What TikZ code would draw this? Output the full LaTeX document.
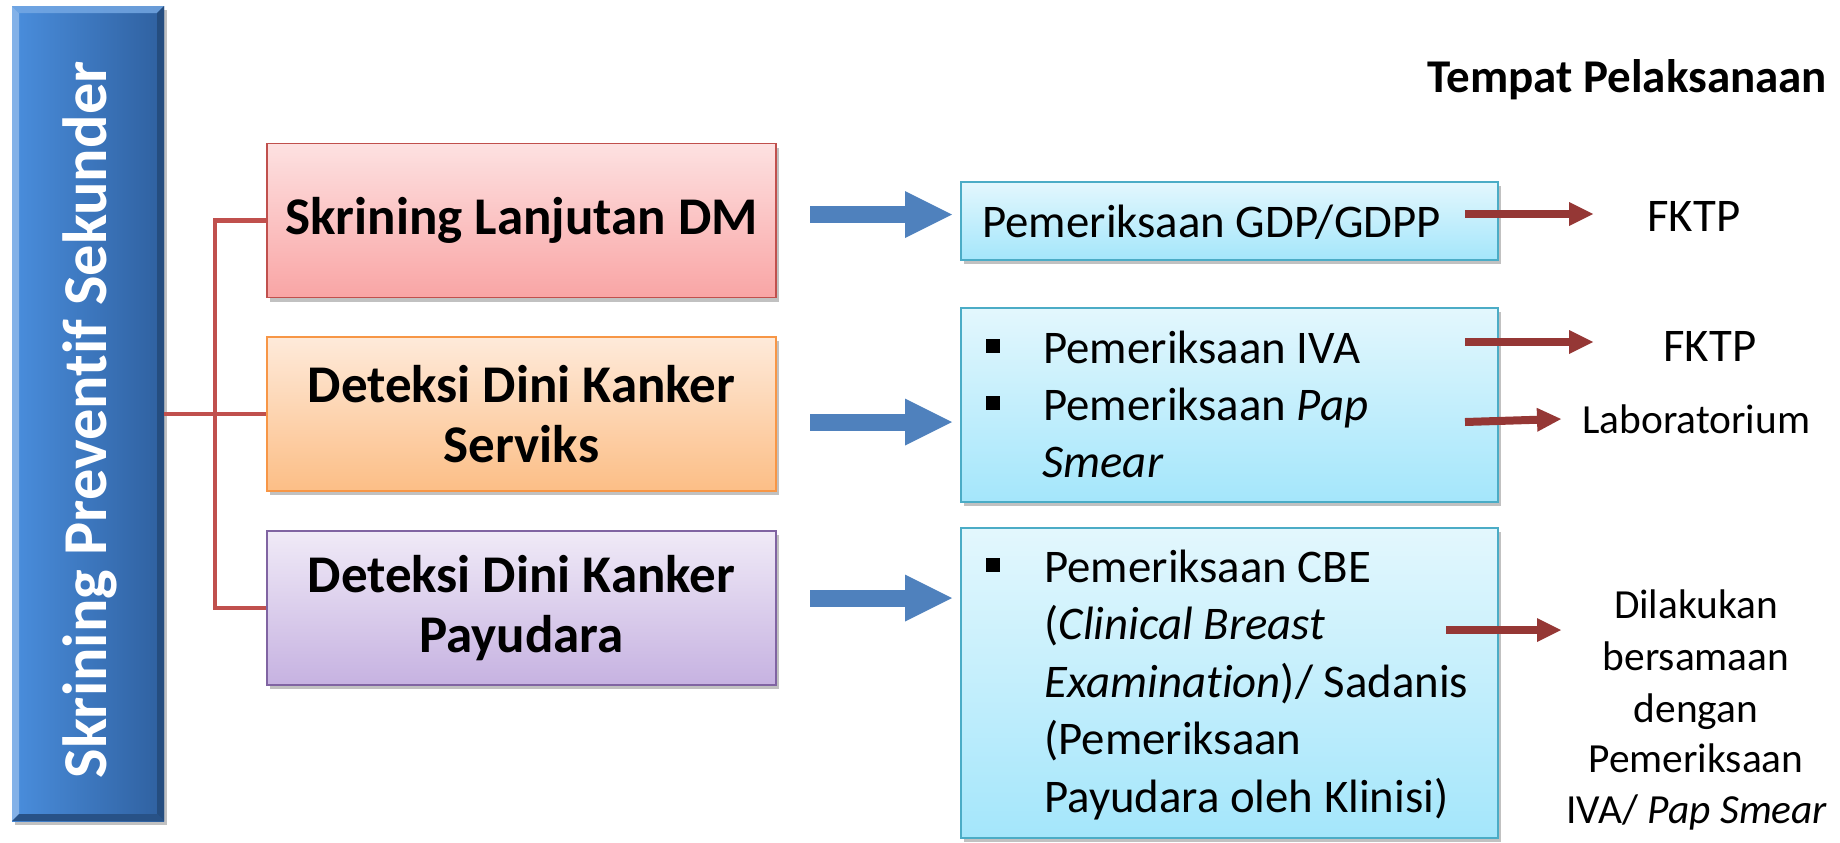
\documentclass[tikz,border=0pt]{standalone}
\usepackage{fontspec}
\setmainfont{Carlito}[Ligatures=NoCommon]
\usetikzlibrary{arrows.meta,shadows,calc}

\definecolor{linkred}{HTML}{C0504D}
\definecolor{arrowred}{HTML}{953735}
\definecolor{arrowblue}{HTML}{4F81BD}
\definecolor{pinktop}{HTML}{FDE1E1}
\definecolor{pinkbot}{HTML}{F9A5A5}
\definecolor{orangeline}{HTML}{F79646}
\definecolor{orangetop}{HTML}{FEEADA}
\definecolor{orangebot}{HTML}{FCBE86}
\definecolor{purpleline}{HTML}{8064A2}
\definecolor{purpletop}{HTML}{F0EAF7}
\definecolor{purplebot}{HTML}{C6B2E1}
\definecolor{cyanline}{HTML}{4BACC6}
\definecolor{cyantop}{HTML}{E3F7FD}
\definecolor{cyanbot}{HTML}{A4E6FB}
\definecolor{titleleft}{HTML}{4A8EDD}
\definecolor{titleright}{HTML}{2F609F}

\begin{document}
\begin{tikzpicture}[x=0.5pt,y=-0.5pt,
  shadowed/.style={drop shadow={shadow xshift=1.5pt,shadow yshift=-2pt,opacity=0.35,fill=black!70}},
  catbox/.style={draw, line width=0.8pt, minimum width=254.5pt, minimum height=77pt,
    align=center, inner sep=0pt, shadowed,
    font=\bfseries\fontsize{26.5}{30}\selectfont},
  pinkbox/.style={catbox, draw=linkred, top color=pinktop, bottom color=pinkbot},
  orangebox/.style={catbox, draw=orangeline, top color=orangetop, bottom color=orangebot},
  purplebox/.style={catbox, draw=purpleline, top color=purpletop, bottom color=purplebot},
  testbox/.style={draw=cyanline, line width=0.8pt, top color=cyantop, bottom color=cyanbot,
    minimum width=268.5pt, inner sep=0pt, shadowed},
  textline/.style={font=\fontsize{23.4}{28.5}\selectfont, inner sep=0pt, anchor=base west},
  placeline/.style={font=\fontsize{20.7}{25}\selectfont, inner sep=0pt, anchor=base},
  bulletmark/.style={inner sep=0pt, anchor=base west},
  bluearrow/.style={draw=arrowblue, line width=8.5pt,
    -{Triangle[length=23.5pt,width=23.5pt,line width=0pt]}},
  redarrow/.style={draw=arrowred, line width=4pt,
    -{Triangle[length=12pt,width=12pt,line width=0pt]}},
  conn/.style={draw=linkred, line width=2.2pt}]

\useasboundingbox (0,0) rectangle (1840,842);

% Vertical title bar
\node[minimum width=76pt, minimum height=407.5pt, inner sep=0pt,
      left color=titleleft, right color=titleright, shadowed] (title) at (88,413.5) {};
\fill[titleleft!60!white, opacity=0.8] (12,6) -- (19,13) -- (19,814) -- (12,821) -- cycle;
\fill[titleleft!75!white, opacity=0.8] (12,6) -- (164,6) -- (157,13) -- (19,13) -- cycle;
\fill[titleright!80!black] (164,6) -- (164,821) -- (157,814) -- (157,13) -- cycle;
\fill[titleright!85!black] (12,821) -- (164,821) -- (157,814) -- (19,814) -- cycle;
\node[rotate=90, text=white, inner sep=0pt,
      font=\bfseries\fontsize{31.2}{36}\selectfont] (titletext) at (90,420) {Skrining Preventif Sekunder};

% Screening categories
\node[pinkbox]   (dm)      at (521.5,220.5) {Skrining Lanjutan DM};
\node[orangebox] (serviks) at (521.5,414)   {Deteksi Dini Kanker\\Serviks};
\node[purplebox] (payu)    at (521.5,608)   {Deteksi Dini Kanker\\Payudara};

% Bracket joining the title bar to the categories
\coordinate (hub) at (215,414);
\draw[conn] (title.east |- serviks.west) -- (serviks.west);
\draw[conn] (dm.west) -- (dm.west -| hub) -- (payu.west -| hub) -- (payu.west);

% Examination boxes
\node[testbox, minimum height=39pt]   (gdp) at (1229.5,221) {};
\node[testbox, minimum height=97pt]   (iva) at (1229.5,405) {};
\node[testbox, minimum height=155pt]  (cbe) at (1229.5,683) {};

\node[textline] (gdptext) at (982,237) {Pemeriksaan GDP/GDPP};

\node[bulletmark] (ivab1) at (986,363) {\rule[5pt]{7pt}{7pt}};
\node[textline]   (ivat1) at (1043,363) {Pemeriksaan IVA};
\node[bulletmark] (ivab2) at (986,420) {\rule[5pt]{7pt}{7pt}};
\node[textline]   (ivat2) at (1043,420) {Pemeriksaan \textit{Pap}};
\node[textline]   (ivat3) at (1042,477) {\textit{Smear}};

\node[bulletmark] (cbeb1) at (986,582) {\rule[5pt]{7pt}{7pt}};
\node[textline]   (cbet1) at (1044,582)   {Pemeriksaan CBE};
\node[textline]   (cbet2) at (1044,639.5) {(\textit{Clinical Breast}};
\node[textline]   (cbet3) at (1044,697)   {\textit{Examination})/ Sadanis};
\node[textline]   (cbet4) at (1044,754.5) {(Pemeriksaan};
\node[textline]   (cbet5) at (1044,812)   {Payudara oleh Klinisi)};

% Blue block arrows from categories to examinations
\coordinate (b1s) at (810,214.5); \coordinate (b1e) at (952,214.5);
\coordinate (b2s) at (810,422);   \coordinate (b2e) at (952,422);
\coordinate (b3s) at (810,598);   \coordinate (b3e) at (952,598);
\draw[bluearrow] (b1s) -- (b1e);
\draw[bluearrow] (b2s) -- (b2e);
\draw[bluearrow] (b3s) -- (b3e);

% Places of implementation
\node[anchor=base west, inner sep=0pt, font=\bfseries\fontsize{23.5}{28.5}\selectfont]
  (placehead) at (1427,92) {Tempat Pelaksanaan};
\node[textline] (fktp1) at (1647,231) {FKTP};
\node[textline] (fktp2) at (1663,361) {FKTP};
\node[placeline, anchor=base west] (lab) at (1582,433) {Laboratorium};
\node[placeline] (p1) at (1696,618) {Dilakukan};
\node[placeline] (p2) at (1696,670) {bersamaan};
\node[placeline] (p3) at (1696,722) {dengan};
\node[placeline] (p4) at (1696,772) {Pemeriksaan};
\node[placeline] (p5) at (1697,823) {IVA/ \textit{Pap Smear}};

% Red arrows towards the places
\coordinate (r1s) at (1465,214); \coordinate (r1e) at (1593,214);
\coordinate (r2s) at (1465,342); \coordinate (r2e) at (1593,342);
\coordinate (r3s) at (1465,422); \coordinate (r3e) at (1561,419);
\coordinate (r4s) at (1446,630); \coordinate (r4e) at (1561,630);
\draw[redarrow] (r1s) -- (r1e);
\draw[redarrow] (r2s) -- (r2e);
\draw[redarrow] (r3s) -- (r3e);
\draw[redarrow] (r4s) -- (r4e);
\end{tikzpicture}
\end{document}
